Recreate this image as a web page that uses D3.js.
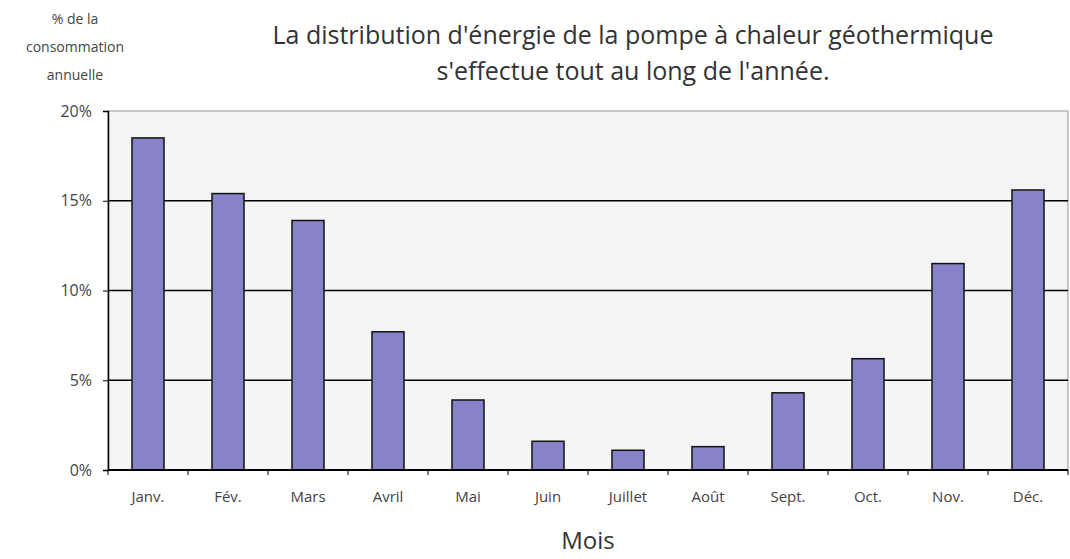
<!DOCTYPE html>
<html><head><meta charset="utf-8">
<script src="https://cdn.jsdelivr.net/npm/d3@7"></script>
<style>body{margin:0;background:#fff;font-family:"Open Sans",sans-serif;}</style>
</head><body>
<script>
var months = ['Janv.', 'Fév.', 'Mars', 'Avril', 'Mai', 'Juin', 'Juillet', 'Août', 'Sept.', 'Oct.', 'Nov.', 'Déc.'];
var values = [18.5, 15.4, 13.9, 7.7, 3.9, 1.6, 1.1, 1.3, 4.3, 6.2, 11.5, 15.6];
var yTicks = [0, 5, 10, 15, 20];

(function() {
var W = 1070, H = 559,
	pLeft = 108, pRight = 1068, pTop = 111, pBottom = 470,
	grey = '#444';

var svg = d3.select('body').append('svg').attr('width', W).attr('height', H);

var x = d3.scaleBand().domain(months).range([pLeft, pRight]).paddingInner(0.6).paddingOuter(0.3);
var y = d3.scaleLinear().domain([0, 20]).range([pBottom, pTop]);

// plot background
svg.append('rect')
	.attr('x', pLeft).attr('y', pTop)
	.attr('width', pRight - pLeft).attr('height', pBottom - pTop)
	.attr('fill', '#f4f4f4')
	.attr('stroke', '#999');

// grid lines
svg.selectAll('.grid').data(yTicks.slice(1, 4)).enter().append('line')
	.attr('x1', pLeft).attr('x2', pRight)
	.attr('y1', function(d) { return y(d); }).attr('y2', function(d) { return y(d); })
	.attr('stroke', '#000').attr('stroke-width', 1.5);

// bars
svg.selectAll('.bar').data(values).enter().append('rect')
	.attr('x', function(d, i) { return x(months[i]); })
	.attr('y', function(d) { return y(d); })
	.attr('width', x.bandwidth())
	.attr('height', function(d) { return pBottom - y(d); })
	.attr('fill', '#8882c9')
	.attr('stroke', '#111').attr('stroke-width', 1.5);

// y axis
var yAxis = svg.append('g').attr('transform', 'translate(' + pLeft + ',0)')
	.call(d3.axisLeft(y).tickValues(yTicks).tickSize(5).tickFormat(function(d) { return d + '%'; }));
yAxis.select('.domain').attr('stroke', '#000').attr('stroke-width', 1.5);
yAxis.selectAll('text').attr('font-size', 16).attr('fill', grey).attr('dx', -8).attr('font-family', 'Open Sans');

// x axis
var step = x.step();
var xAxis = svg.append('g').attr('transform', 'translate(0,' + pBottom + ')');
xAxis.append('line').attr('x1', pLeft).attr('x2', pRight).attr('stroke', '#000').attr('stroke-width', 2);
xAxis.selectAll('.tk').data(d3.range(13)).enter().append('line')
	.attr('x1', function(d) { return pLeft + d * step; }).attr('x2', function(d) { return pLeft + d * step; })
	.attr('y1', 0).attr('y2', 5).attr('stroke', '#000');
xAxis.selectAll('.lbl').data(months).enter().append('text')
	.text(function(d) { return d; })
	.attr('x', function(d) { return x(d) + x.bandwidth() / 2; })
	.attr('y', 32)
	.attr('text-anchor', 'middle')
	.attr('font-size', 15)
	.attr('fill', grey);

// titles
svg.append('text').text('Mois').attr('x', 588).attr('y', 549)
	.attr('text-anchor', 'middle').attr('font-size', 24).attr('fill', '#333');

['% de la', 'consommation', 'annuelle'].forEach(function(t, i) {
	svg.append('text').text(t).attr('x', 75).attr('y', 24 + i * 28)
		.attr('text-anchor', 'middle').attr('font-size', 14).attr('fill', grey);
});

['La distribution d\'énergie de la pompe à chaleur géothermique', 's\'effectue tout au long de l\'année.'].forEach(function(t, i) {
	svg.append('text').text(t).attr('x', 633).attr('y', 44 + i * 36)
		.attr('text-anchor', 'middle').attr('font-size', 25).attr('fill', '#333');
});
})();
</script>
</body></html>
